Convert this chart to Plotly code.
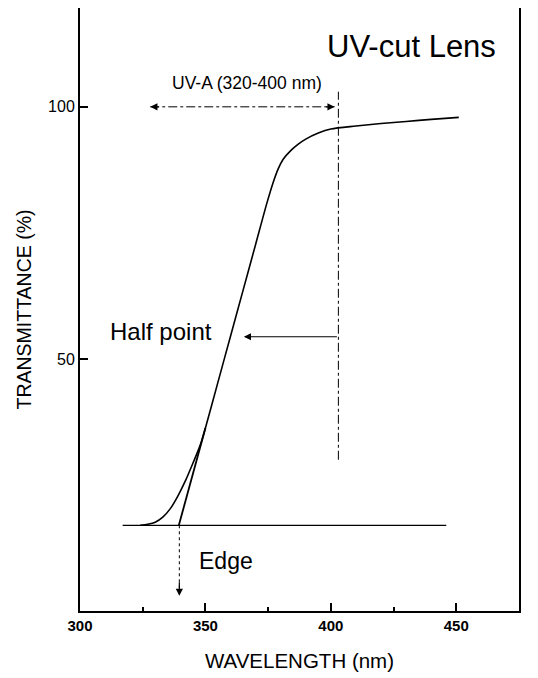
import plotly.graph_objects as go

# --- data ---
wavelength_nm = [324, 327, 330, 333, 336, 339, 342, 345, 348, 350, 355, 360, 365, 370, 374.5,
                 377, 379, 381, 384, 387, 390, 395, 400, 410, 420, 430, 440, 451]
transmittance = [17.0, 17.2, 17.6, 18.6, 20.3, 22.8, 25.8, 29.3, 33.0, 36.3, 45.4, 54.5, 63.6, 72.7, 80.9,
                 85.0, 87.7, 89.6, 91.3, 92.6, 93.6, 94.8, 95.6, 96.2, 96.7, 97.1, 97.5, 97.9]

tangent_nm = [339.4, 350.0]
tangent_T = [17.0, 36.3]

baseline_nm = [317, 446]
baseline_T = [17.0, 17.0]

cutoff_nm = 403
cutoff_T = [30, 103]

uva_range_nm = [328, 401.5]
uva_T = 100

edge_nm = 339.6
edge_T = [17.0, 3.0]

half_T = 54.4
half_tip_nm = 365.3

x_ticks = [300, 350, 400, 450]
y_ticks = [50, 100]

FONT = "Liberation Sans, Arial, Helvetica, sans-serif"

fig = go.Figure()

# baseline
fig.add_trace(go.Scatter(x=baseline_nm, y=baseline_T, mode="lines",
                         line=dict(color="black", width=1.2), hoverinfo="skip"))
# tangent line
fig.add_trace(go.Scatter(x=tangent_nm, y=tangent_T, mode="lines",
                         line=dict(color="black", width=1.8), hoverinfo="skip"))
# transmittance curve
fig.add_trace(go.Scatter(x=wavelength_nm, y=transmittance, mode="lines",
                         line=dict(color="black", width=1.6, shape="spline", smoothing=0.8)))
# cutoff vertical line
fig.add_trace(go.Scatter(x=[cutoff_nm, cutoff_nm], y=cutoff_T, mode="lines",
                         line=dict(color="black", width=1, dash="dashdot"), hoverinfo="skip"))
# UV-A range line
fig.add_trace(go.Scatter(x=uva_range_nm, y=[uva_T, uva_T], mode="lines",
                         line=dict(color="black", width=1, dash="dashdot"), hoverinfo="skip"))
# edge dashed line
fig.add_trace(go.Scatter(x=[edge_nm, edge_nm], y=edge_T, mode="lines",
                         line=dict(color="black", width=1, dash="dot"), hoverinfo="skip"))

ARW = dict(showarrow=True, arrowhead=2, arrowsize=1.2, arrowwidth=1.2, arrowcolor="black", text="",
           xref="x", yref="y", axref="x", ayref="y")
annotations = [
    # UV-A arrowheads
    dict(x=uva_range_nm[0], y=uva_T, ax=uva_range_nm[0] + 4, ay=uva_T, **ARW),
    dict(x=uva_range_nm[1], y=uva_T, ax=uva_range_nm[1] - 4, ay=uva_T, **ARW),
    # Edge arrowhead
    dict(x=edge_nm, y=edge_T[1], ax=edge_nm, ay=edge_T[1] + 3, **ARW),
    # Half point arrow
    dict(x=half_tip_nm, y=half_T, ax=cutoff_nm, ay=half_T, **ARW),
    # texts
    dict(x=366.5, y=104.7, xref="x", yref="y", text="UV-A (320-400 nm)", showarrow=False,
         font=dict(family=FONT, size=17.5, color="black")),
    dict(x=466.8, y=111.9, xref="x", yref="y", text="UV-cut Lens", showarrow=False,
         xanchor="right", font=dict(family=FONT, size=31, color="black")),
    dict(x=332.2, y=55.5, xref="x", yref="y", text="Half point", showarrow=False,
         font=dict(family=FONT, size=24, color="black")),
    dict(x=358.0, y=10.0, xref="x", yref="y", text="Edge", showarrow=False,
         font=dict(family=FONT, size=23, color="black")),
]

fig.update_layout(
    width=530, height=670,
    margin=dict(l=72, r=19, t=0, b=67),
    paper_bgcolor="white", plot_bgcolor="white",
    showlegend=False,
    annotations=annotations,
    font=dict(family=FONT, color="black"),
)

fig.update_xaxes(
    range=[300, 475], tickvals=x_ticks, ticktext=[str(v) for v in x_ticks],
    showgrid=False, zeroline=False, showline=True, linecolor="black", linewidth=2, mirror=True,
    ticks="inside", ticklen=8, tickwidth=2, tickcolor="black",
    minor=dict(dtick=25, tick0=300, ticks="inside", ticklen=4, tickwidth=1.5, tickcolor="black", showgrid=False),
    tickfont=dict(family=FONT, size=15, color="black", weight="bold"),
    title=dict(text="WAVELENGTH (nm)", font=dict(family=FONT, size=20.5, color="black"), standoff=21),
    automargin=False,
)
fig.update_yaxes(
    range=[0, 119.6], tickvals=y_ticks, ticktext=[str(v) for v in y_ticks],
    showgrid=False, zeroline=False, showline=True, linecolor="black", linewidth=2, mirror=True,
    ticks="inside", ticklen=8, tickwidth=1.5, tickcolor="black",
    tickfont=dict(family=FONT, size=16, color="black"),
    title=dict(text="TRANSMITTANCE (%)", font=dict(family=FONT, size=19.5, color="black"), standoff=11),
    automargin=False,
)

fig.write_html("out.html")
